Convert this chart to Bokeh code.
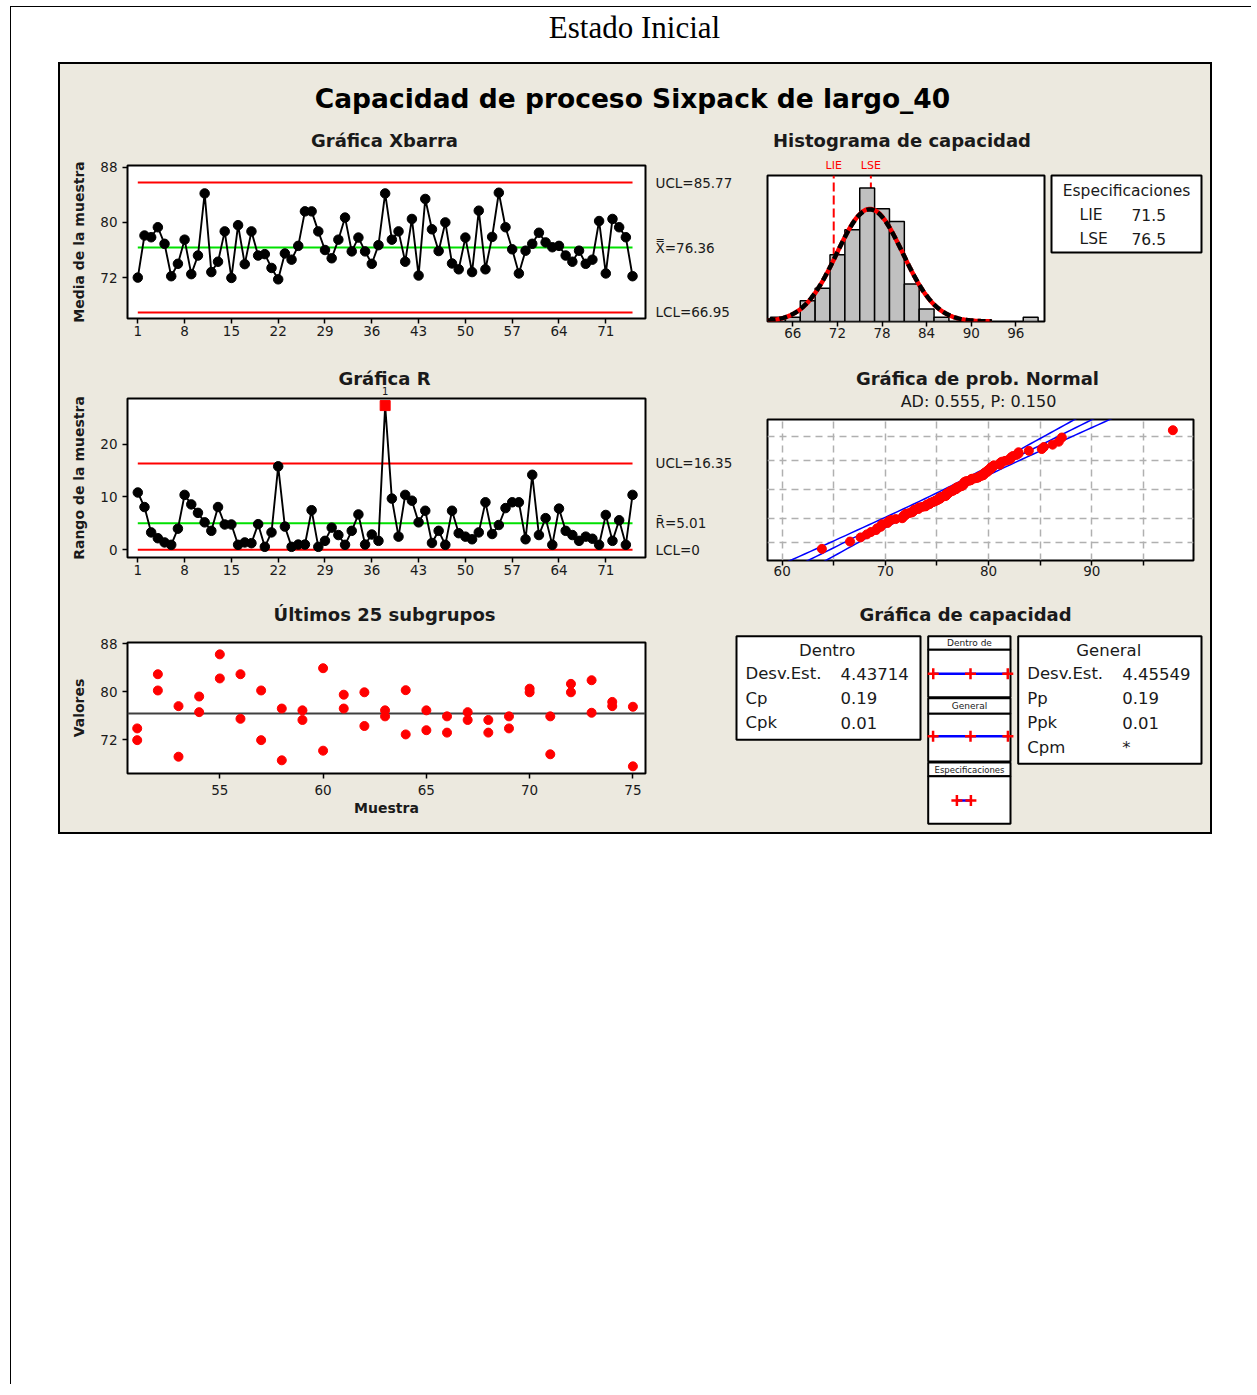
import numpy as np
from statistics import NormalDist
from bokeh.plotting import figure
from bokeh.layouts import column, row
from bokeh.models import Range1d, FixedTicker, Grid, Spacer, LinearAxis
from bokeh.core.properties import value
from bokeh.embed import file_html
from bokeh.resources import INLINE

BEIGE = "#ece9df"
FONT = "DejaVu Sans"
RED = "#ff0000"
GREEN = "#00e000"
BLUE = "#0000ff"
TXT = "#1a1a1a"

# ---------------- data ----------------
xbar = [72.0, 78.1, 77.85, 79.3, 76.9, 72.2, 74.0, 77.5, 72.5, 75.2,
        84.2, 72.8, 74.3, 78.7, 71.95, 79.6, 73.95, 78.7, 75.2, 75.4,
        73.4, 71.75, 75.5, 74.6, 76.6, 81.6, 81.6, 78.7, 76.0, 74.8,
        77.5, 80.7, 75.8, 77.8, 75.8, 74.0, 76.7, 84.2, 77.5, 78.7,
        74.3, 80.5, 72.3, 83.4, 79.0, 75.85, 80.0, 74.05, 73.2, 77.8,
        72.8, 81.7, 73.2, 77.9, 84.3, 79.3, 76.1, 72.6, 75.9, 76.9,
        78.5, 77.1, 76.4, 76.6, 75.2, 74.3, 75.9, 74.0, 74.6, 80.2,
        72.6, 80.5, 79.3, 77.85, 72.2]
ranges = [10.85, 8.1, 3.3, 2.2, 1.4, 0.95, 4.0, 10.4, 8.6, 7.0,
          5.2, 3.6, 8.1, 4.8, 4.8, 0.95, 1.4, 1.26, 4.86, 0.57,
          3.3, 15.8, 4.4, 0.57, 1.0, 1.0, 7.5, 0.57, 1.7, 4.2,
          2.8, 0.95, 3.6, 6.7, 1.0, 2.9, 1.7, 27.3, 9.7, 2.5,
          10.4, 9.3, 5.2, 7.4, 1.3, 3.6, 0.95, 7.4, 3.15, 2.5,
          2.0, 3.3, 9.0, 3.0, 4.7, 7.9, 9.0, 9.0, 2.0, 14.2,
          2.8, 6.0, 0.95, 7.8, 3.6, 2.8, 1.7, 2.5, 2.1, 0.95,
          6.6, 1.7, 5.6, 0.95, 10.4]
xbar_limits = {"UCL": 85.77, "CL": 76.36, "LCL": 66.95}
r_limits = {"UCL": 16.35, "CL": 5.01, "LCL": 0.0}

last_groups = list(range(51, 76))
last_hi = [73.9, 82.9, 77.6, 79.2, 86.2, 82.9, 80.2, 77.2, 76.9, 83.9,
           79.5, 79.9, 76.9, 80.25, 76.9, 75.9, 76.6, 75.3, 75.9, 80.5,
           75.9, 81.3, 81.9, 78.3, 77.5]
last_lo = [71.95, 80.2, 69.2, 76.6, 82.2, 75.5, 71.95, 68.6, 75.3, 70.2,
           77.2, 74.3, 75.9, 72.9, 73.6, 73.2, 75.3, 73.2, 73.9, 79.9,
           69.6, 79.9, 76.5, 77.6, 67.6]

hist_edges = [63, 65, 67, 69, 71, 73, 75, 77, 79, 81, 83, 85, 87, 89, 91, 93, 95, 97, 99]
hist_counts = [1, 1, 5, 8, 16, 22, 32, 27, 24, 9, 3, 1, 0, 0, 0, 0, 0, 1]

LIE, LSE = 71.5, 76.5
mean_all = 76.36
sd_within = 4.43714
sd_overall = 4.45549
n_obs = 150
ad_text = "AD: 0.555, P: 0.150"
within_rows = [("Desv.Est.", "4.43714"), ("Cp", "0.19"), ("Cpk", "0.01")]
overall_rows = [("Desv.Est.", "4.45549"), ("Pp", "0.19"), ("Ppk", "0.01"), ("Cpm", "*")]
prob_grid_pct = [1, 10, 50, 90, 99]


# ---------------- helpers ----------------
def base_fig(w, h, left, right, top, bottom, xr, yr, **kw):
    p = figure(width=w, height=h, min_border_left=left, min_border_right=right,
               min_border_top=top, min_border_bottom=bottom,
               x_range=Range1d(*xr), y_range=Range1d(*yr),
               output_backend="svg", toolbar_location=None, **kw)
    p.frame_align = False
    p.border_fill_color = BEIGE
    p.background_fill_color = "white"
    p.outline_line_color = "black"
    p.outline_line_width = 2
    for g in p.grid:
        g.visible = False
    return p


def style_axis(ax, ticks, standoff=3):
    ax.ticker = FixedTicker(ticks=ticks)
    ax.axis_line_color = None
    ax.major_tick_line_color = "black"
    ax.major_tick_line_width = 1.5
    ax.major_tick_out = 5
    ax.major_tick_in = 0
    ax.minor_tick_line_color = None
    ax.major_label_text_font = FONT
    ax.major_label_text_font_size = "13.5px"
    ax.major_label_text_color = TXT
    ax.major_label_standoff = standoff


def axis_label(ax, text, standoff):
    ax.axis_label = text
    ax.axis_label_text_font = FONT
    ax.axis_label_text_font_style = "bold"
    ax.axis_label_text_font_size = "14px"
    ax.axis_label_text_color = TXT
    ax.axis_label_standoff = standoff


def limit_axis(p, items):
    ticks = [v for v, _ in items]
    overrides = {}
    for v, t in items:
        overrides[float(v)] = t
        overrides[("%g" % v)] = t
    ax = LinearAxis(ticker=FixedTicker(ticks=ticks), major_label_overrides=overrides,
                    axis_line_color=None, major_tick_line_color=None, minor_tick_line_color=None,
                    major_tick_out=0, major_tick_in=0, major_label_standoff=10,
                    major_label_text_font=FONT, major_label_text_font_size="13.5px",
                    major_label_text_color=TXT)
    p.add_layout(ax, "right")


def canvas(w, h, bg):
    p = figure(width=w, height=h, x_range=Range1d(0, w), y_range=Range1d(h, 0),
               min_border=0, x_axis_location=None, y_axis_location=None,
               output_backend="svg", toolbar_location=None)
    p.frame_align = False
    p.border_fill_color = bg
    p.background_fill_color = bg
    p.outline_line_color = None
    for g in p.grid:
        g.visible = False
    return p


def txt(p, xs, ys, texts, size, align="left", bold=False, color=TXT, font=FONT,
        baseline="middle", **kw):
    p.text(x=xs, y=ys, text=texts, text_font=value(font), text_font_size=value(size),
           text_align=align, text_baseline=baseline, text_color=color,
           text_font_style="bold" if bold else "normal", **kw)


groups = list(range(1, len(xbar) + 1))
x_ticks = [1, 8, 15, 22, 29, 36, 43, 50, 57, 64, 71]
XR = (-0.54, 76.94)
XPX = 518 / (XR[1] - XR[0])

# ---------------- head ----------------
head = canvas(1241, 57, "white")
txt(head, [623], [20], ["Estado Inicial"], "31px", align="center",
    color="black", font="Liberation Serif")

title_fig = canvas(1150, 62, BEIGE)
txt(title_fig, [572], [34], ["Capacidad de proceso Sixpack de largo_40"], "26.5px",
    align="center", bold=True, color="black")

# ---------------- Xbar chart ----------------
stripA = canvas(680, 30, BEIGE)
txt(stripA, [324], [14], ["Gráfica Xbarra"], "18px", align="center", bold=True)

px = base_fig(680, 204, 67, 95, 9, 42, XR, (66.07, 88.25))
style_axis(px.xaxis[0], x_ticks, standoff=2)
style_axis(px.yaxis[0], [72, 80, 88], standoff=5)
axis_label(px.yaxis[0], "Media de la muestra", 10)
for key, col in (("UCL", RED), ("LCL", RED), ("CL", GREEN)):
    px.line([groups[0], groups[-1]], [xbar_limits[key]] * 2, line_color=col, line_width=2)
px.line(groups, xbar, line_color="black", line_width=1.9)
px.scatter(groups, xbar, size=9.5, color="black")
limit_axis(px, [(xbar_limits["UCL"], f"UCL={xbar_limits['UCL']:.2f}"),
                (xbar_limits["CL"], f"X\u033F={xbar_limits['CL']:.2f}"),
                (xbar_limits["LCL"], f"LCL={xbar_limits['LCL']:.2f}")])

# ---------------- Histogram ----------------
HXR = (62.59, 99.86)
HYR = (0, 35)
HPX = 277 / (HXR[1] - HXR[0])
stripB = canvas(307, 46, BEIGE)
stripB.extra_x_ranges = {"h": Range1d(HXR[0] - 27 / HPX, HXR[1] + 3 / HPX)}
txt(stripB, [161.5], [14], ["Histograma de capacidad"], "18px", align="center", bold=True)
txt(stripB, [LIE, LSE], [39, 39], ["LIE", "LSE"], "11px", align="center", color=RED,
    x_range_name="h")

ph = base_fig(307, 188, 27, 3, 3, 39, HXR, HYR, y_axis_location=None)
style_axis(ph.xaxis[0], [66, 72, 78, 84, 90, 96], standoff=1)
for s in (LIE, LSE):
    ph.line([s, s], [HYR[0], HYR[1]], line_color=RED, line_width=2, line_dash="9 4")
lefts = [hist_edges[i] for i, c in enumerate(hist_counts) if c > 0]
rights = [hist_edges[i + 1] for i, c in enumerate(hist_counts) if c > 0]
tops = [c for c in hist_counts if c > 0]
ph.quad(left=lefts, right=rights, top=tops, bottom=0, fill_color="#c0c0c0",
        line_color="black", line_width=1.5)
binw = hist_edges[1] - hist_edges[0]
xs_curve = np.linspace(62.6, 92.8, 200)
nd_w = NormalDist(mean_all, sd_within)
nd_o = NormalDist(mean_all, sd_overall)
ph.line(xs_curve, [n_obs * binw * nd_w.pdf(v) for v in xs_curve], line_color=RED, line_width=4.5)
ph.line(xs_curve, [n_obs * binw * nd_o.pdf(v) for v in xs_curve], line_color="black",
        line_width=4.5, line_dash="8 4")

# spec box
spec = canvas(163, 234, BEIGE)
spec.quad(left=[4], right=[154], top=[49], bottom=[126], fill_color="white",
          line_color="black", line_width=2)
txt(spec, [79], [64], ["Especificaciones"], "15.5px", align="center")
txt(spec, [32, 32], [88, 112], ["LIE", "LSE"], "15.5px")
txt(spec, [84, 84], [88, 112], [f"{LIE}", f"{LSE}"], "15.5px")

# ---------------- R chart ----------------
ok_x = [g for g, r in zip(groups, ranges) if r <= r_limits["UCL"]]
ok_y = [r for r in ranges if r <= r_limits["UCL"]]
bad_x = [g for g, r in zip(groups, ranges) if r > r_limits["UCL"]]
bad_y = [r for r in ranges if r > r_limits["UCL"]]

stripR = canvas(680, 36, BEIGE)
stripR.extra_x_ranges = {"r": Range1d(XR[0] - 67 / XPX, XR[1] + 95 / XPX)}
txt(stripR, [324], [18], ["Gráfica R"], "18px", align="center", bold=True)
txt(stripR, bad_x, [30] * len(bad_x), ["1"] * len(bad_x), "10px", align="center",
    x_range_name="r")

pr = base_fig(680, 196, 67, 95, 2, 35, XR, (-1.45, 28.64))
style_axis(pr.xaxis[0], x_ticks, standoff=2)
style_axis(pr.yaxis[0], [0, 10, 20], standoff=5)
axis_label(pr.yaxis[0], "Rango de la muestra", 10)
for key, col in (("UCL", RED), ("LCL", RED), ("CL", GREEN)):
    pr.line([groups[0], groups[-1]], [r_limits[key]] * 2, line_color=col, line_width=2)
pr.line(groups, ranges, line_color="black", line_width=1.9)
pr.scatter(ok_x, ok_y, size=9.5, color="black")
pr.scatter(bad_x, bad_y, size=10, marker="square", color=RED)
limit_axis(pr, [(r_limits["UCL"], f"UCL={r_limits['UCL']:.2f}"),
                (r_limits["CL"], f"R\u0304={r_limits['CL']:.2f}"),
                (r_limits["LCL"], f"LCL={r_limits['LCL']:.0f}")])

# ---------------- Normal probability plot ----------------
all_vals = []
for i in range(50):
    all_vals += [xbar[i] - ranges[i] / 2, xbar[i] + ranges[i] / 2]
all_vals += last_lo + last_hi
vals = sorted(all_vals)
nv = len(vals)
std = NormalDist()
zs = [std.inv_cdf((i + 1 - 0.3) / (nv + 0.4)) for i in range(nv)]

stripN = canvas(470, 58, BEIGE)
txt(stripN, [237], [18], ["Gráfica de prob. Normal"], "18px", align="center", bold=True)
txt(stripN, [238], [41], [ad_text], "16px", align="center")

NXR = (58.58, 99.85)
NYR = (-3.11, 3.07)
pn = base_fig(470, 174, 27, 17, 1, 32, NXR, NYR, y_axis_location=None)
style_axis(pn.xaxis[0], [60, 70, 80, 90], standoff=0)
pn.xaxis[0].ticker = FixedTicker(ticks=[60, 70, 80, 90], minor_ticks=[65, 75, 85, 95])
pn.xaxis[0].minor_tick_line_color = "black"
pn.xaxis[0].minor_tick_line_width = 1.5
pn.xaxis[0].minor_tick_out = 5
pn.xaxis[0].minor_tick_in = 0
pn.xgrid[0].visible = True
pn.xgrid[0].ticker = FixedTicker(ticks=[60, 65, 70, 75, 80, 85, 90, 95])
pn.xgrid[0].grid_line_color = "#b0b0b0"
pn.xgrid[0].grid_line_dash = "7 5"
pn.xgrid[0].grid_line_width = 1.5
pn.add_layout(Grid(dimension=1, ticker=FixedTicker(ticks=[std.inv_cdf(q / 100) for q in prob_grid_pct]),
                   grid_line_color="#b0b0b0", grid_line_dash="7 5", grid_line_width=1.5))
zline = np.linspace(-3.4, 3.4, 60)
fit = [mean_all + sd_overall * z for z in zline]
half = [1.96 * np.sqrt(sd_overall ** 2 / nv + z * z * sd_overall ** 2 / (2 * nv)) for z in zline]
pn.line(fit, zline, line_color=BLUE, line_width=1.5)
pn.line([f - h for f, h in zip(fit, half)], zline, line_color=BLUE, line_width=1.5)
pn.line([f + h for f, h in zip(fit, half)], zline, line_color=BLUE, line_width=1.5)
pn.scatter(vals, zs, size=9, color=RED)

# ---------------- Last 25 subgroups ----------------
stripL = canvas(670, 36, BEIGE)
txt(stripL, [324], [22], ["Últimos 25 subgrupos"], "18px", align="center", bold=True)

LXR = (50.53, 75.61)
LYR = (66.41, 88.17)
pl = base_fig(670, 204, 67, 85, 14, 59, LXR, LYR)
style_axis(pl.xaxis[0], [55, 60, 65, 70, 75], standoff=6)
style_axis(pl.yaxis[0], [72, 80, 88], standoff=5)
axis_label(pl.yaxis[0], "Valores", 10)
axis_label(pl.xaxis[0], "Muestra", 2)
pl.line([LXR[0], LXR[1]], [xbar_limits["CL"]] * 2, line_color="#404040", line_width=2)
pl.scatter(last_groups + last_groups, last_hi + last_lo, size=9, color=RED)

# ---------------- Capability plot ----------------
pc = canvas(480, 240, BEIGE)
PXU = 2.8
pc.extra_x_ranges = {"cap": Range1d(mean_all - 240 / PXU, mean_all + 240 / PXU)}
txt(pc, [235], [22], ["Gráfica de capacidad"], "18px", align="center", bold=True)
box_l = [6, 197.7, 197.7, 197.7, 197.7, 197.7, 197.7, 287.7]
box_r = [190, 280, 280, 280, 280, 280, 280, 471]
box_t = [43.7, 43.7, 57.3, 105.7, 121.3, 170, 183.7, 43.7]
box_b = [147.3, 57.3, 104.7, 121.3, 169, 183.7, 231.3, 171.3]
pc.quad(left=box_l, right=box_r, top=box_t, bottom=box_b, fill_color="white",
        line_color="black", line_width=2)
txt(pc, [96.7], [58], ["Dentro"], "16.5px", align="center")
txt(pc, [378.3], [58], ["General"], "16.5px", align="center")
row_y = [81.3, 105.7, 130, 154.7]
txt(pc, [15] * len(within_rows), row_y[:len(within_rows)], [r[0] for r in within_rows], "16.5px")
txt(pc, [110] * len(within_rows), row_y[:len(within_rows)], [r[1] for r in within_rows], "16.5px")
txt(pc, [296.7] * len(overall_rows), row_y, [r[0] for r in overall_rows], "16.5px")
txt(pc, [391.7] * len(overall_rows), row_y, [r[1] for r in overall_rows], "16.5px")
txt(pc, [239, 239], [50.5, 113.5], ["Dentro de", "General"], "9px", align="center")
txt(pc, [239], [177], ["Especificaciones"], "8.5px", align="center")
for sd, yy in ((sd_within, 81.3), (sd_overall, 143.7)):
    pts = [mean_all - 3 * sd, mean_all, mean_all + 3 * sd]
    pc.line([pts[0], pts[-1]], [yy, yy], line_color=BLUE, line_width=2.5, x_range_name="cap")
    pc.scatter(pts, [yy] * 3, marker="cross", size=11, line_color=RED, line_width=2.5,
               x_range_name="cap")
pc.line([LIE, LSE], [208, 208], line_color=BLUE, line_width=2.5, x_range_name="cap")
pc.scatter([LIE, LSE], [208, 208], marker="cross", size=11, line_color=RED, line_width=2.5,
           x_range_name="cap")

# ---------------- layout ----------------
row1 = row(column(stripA, px), column(stripB, ph), spec)
row2 = row(column(stripR, pr), column(stripN, pn))
row3 = row(column(stripL, pl), pc)
panel = column(title_fig, row1, row2, row3,
               styles={"outline": "2px solid black", "background-color": BEIGE})
mid = row(Spacer(width=49, height=768), panel, Spacer(width=42, height=768))
root = column(head, mid, Spacer(width=1241, height=553),
              styles={"box-shadow": "-1px -1px 0 0 black"})
page = column(Spacer(width=1252, height=7), row(Spacer(width=11, height=1378), root))

open("out.html", "w").write(file_html(page, INLINE))
